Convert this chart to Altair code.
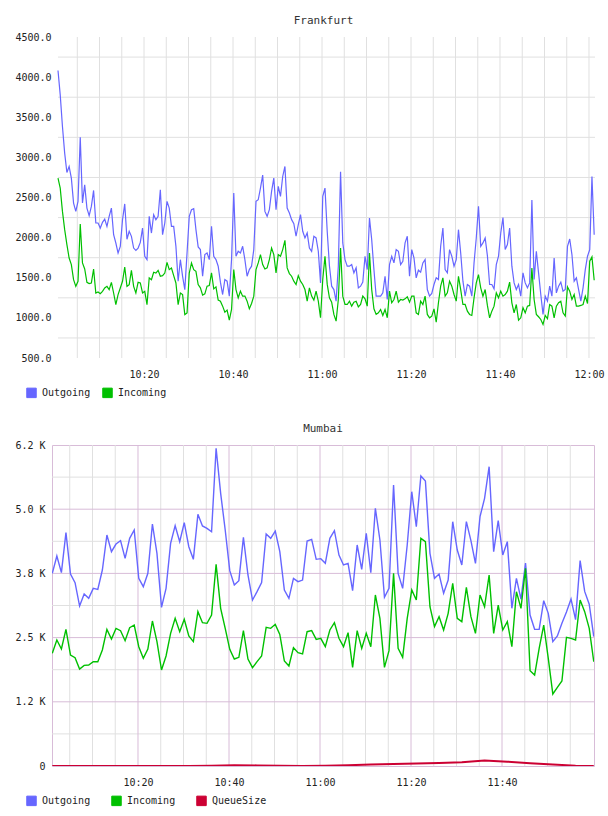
import altair as alt
import pandas as pd

MONO = "DejaVu Sans Mono"
BLUE = "#6666ff"
GREEN = "#00c000"
RED = "#cc0033"
GRID = "#e0e0e0"
PINK = "#d8bcd8"

# ---------------- Frankfurt: 30-second samples ----------------
fra_start = "2024-01-01 10:00:40"
fra_outgoing = [
    4082, 3779, 3385, 3053, 2812, 2887, 2742, 2431, 2327, 2451, 3252, 2431, 2659, 2368, 2273, 2389,
    2588, 2182, 2182, 2119, 2190, 2231, 2140, 2265, 2368, 2036, 1933, 1808, 1891, 2223, 2420, 1980,
    2078, 2016, 1870, 1841, 1870, 1941, 2119, 1767, 1725, 2265, 2057, 2285, 2223, 2265, 2597, 2036,
    2182, 2451, 2368, 2140, 2140, 1891, 1456, 1725, 1518, 1352, 1808, 2265, 2348, 2360, 2100,
    1884, 1851, 1519, 1789, 1809, 1726, 2141, 1768, 1726, 1644, 1445, 1291, 1478, 1457, 1271, 1726,
    2555, 1768, 1830, 1809, 1892, 1726, 1519, 1602, 1644, 1851, 2452, 2472, 2617, 2780, 2327, 2265,
    2348, 2576, 2742, 2348, 2638, 2514, 2762, 2887, 2369, 2307, 2224, 2174, 2017, 2162, 2286, 2079,
    1996, 2058, 1871, 1830, 2017, 1996, 1830, 1436, 2514, 2617, 2080, 1650,
    1395, 1353, 1208, 1644, 2820, 1934, 1726, 1644, 1644, 1664, 1561, 1623, 1374, 1395, 1445, 1768,
    1602, 2244, 1975, 1602, 1271, 1271, 1271, 1312, 1519, 1229, 1664, 1768, 1685, 1851, 1830, 1664,
    1706, 1934, 2017, 1519, 1851, 1747, 1499, 1594, 1569, 1685, 1726, 1353, 1271, 1304, 1416, 1499,
    1478, 1892, 2120, 1602, 1561, 1851, 1768, 1644, 1726, 2099, 1809, 1457, 1271,
    1416, 1395, 1271, 1685, 1996, 2389, 1892, 1934, 1996, 1776, 1416, 1416, 1362, 1664, 1768, 2058,
    2250, 1851, 1913, 2120, 1644, 1436, 1353, 1416, 1271, 1561, 1436, 1374, 1436, 2470, 1478, 1830,
    1561, 1291, 1043, 1271, 1208, 1395, 1271, 1747, 1312, 1395, 1445, 1333, 1353, 1892, 1983, 1789,
    1457, 1499, 1353, 1208, 1374, 1602, 1768, 1851, 2760, 2037,
]
fra_incoming = [
    2742, 2617, 2327, 2099, 1912, 1746, 1663, 1476, 1393, 1456, 2169, 1684, 1609, 1443, 1427, 1435,
    1609, 1310, 1323, 1302, 1331, 1373, 1393, 1352, 1443, 1310, 1165, 1290, 1373, 1456, 1634, 1393,
    1414, 1592, 1393, 1310, 1443, 1435, 1310, 1331, 1165, 1497, 1476, 1568, 1559, 1592, 1518, 1526,
    1559, 1692, 1601, 1621, 1526, 1435, 1165, 1310, 1290, 1041, 1061, 1559, 1684, 1601, 1580,
    1416, 1374, 1283, 1300, 1395, 1403, 1560, 1362, 1387, 1221, 1208, 1146, 1072, 1097, 972, 1105,
    1602, 1353, 1250, 1333, 1271, 1271, 1208, 1113, 1179, 1271, 1602, 1685, 1789, 1664, 1610, 1623,
    1726, 1871, 1789, 1560, 1789, 1768, 1851, 1967, 1623, 1552, 1519, 1457, 1416, 1527, 1457, 1416,
    1353, 1208, 1374, 1271, 1221, 1333, 1208, 1001, 1478, 1768, 1420, 1250,
    1196, 1043, 960, 1229, 1871, 1271, 1167, 1167, 1208, 1146, 1196, 1208, 1138, 1167, 1271, 1237,
    1146, 1809, 1353, 1113, 1043, 1063, 1105, 1030, 1105, 1001, 1333, 1188, 1229, 1333, 1196, 1229,
    1221, 1237, 1262, 1196, 1271, 1271, 1063, 1043, 1208, 1167, 1271, 1043, 1001, 1022, 1113, 947,
    1188, 1395, 1499, 1271, 1312, 1457, 1395, 1291, 1208, 1519, 1353, 1167, 1167,
    1084, 1043, 1030, 1250, 1436, 1540, 1374, 1271, 1353, 1155, 1001, 1084, 1146, 1312, 1250, 1333,
    1271, 1291, 1333, 1445, 1188, 1063, 1167, 972, 1001, 1126, 1063, 1146, 1155, 1620, 1229, 1043,
    1014, 980, 918, 1030, 989, 1167, 1146, 1001, 1146, 1188, 1208, 1063, 1022, 1387, 1333, 1229,
    1291, 1146, 1146, 1155, 1167, 1271, 1179, 1706, 1760, 1469,
]
fra_series = ["Outgoing", "Incoming"]
fra_y_ticks = [500, 1000, 1500, 2000, 2500, 3000, 3500, 4000, 4500]
fra_y_grid = [750, 1250, 1750, 2250, 2750, 3250, 3750, 4250]
fra_time_labels = ["10:20", "10:40", "11:00", "11:20", "11:40", "12:00"]

# ---------------- Mumbai: 1-minute samples ----------------
mum_start = "2024-01-01 10:01:10"
mum_outgoing = [
    3751, 4089, 3764, 4543, 3738, 3570, 3115, 3349, 3264, 3459, 3440, 3816, 4498, 4173, 4322, 4387,
    4043, 4433, 4595, 3654, 3492, 3751, 4712, 4141, 3089, 3459, 4335, 4679, 4368, 4738, 4270, 4024,
    4900, 4673, 4627, 4562, 6185, 5309, 4595, 3803, 3524, 3608, 4452, 3719, 3232, 3394, 3570, 4517,
    4433, 4575, 4173, 3427, 3264, 3654, 3589, 3620, 4381, 4413, 4024, 4037, 3946, 4433, 4582, 4108,
    3914, 3946, 3414, 4303, 3829, 4530, 3764, 5017, 4400, 3284, 3459, 5471, 3751, 3459, 4303, 5341,
    4660, 5647, 5549, 4141, 3654, 3738, 3362, 3621, 4757, 4205, 3914, 4757, 4387, 3946, 4854, 5211,
    5828, 4173, 4776, 4108, 4368, 3070, 3654, 3250, 3950, 2940, 2661, 2661, 3219, 2972, 2421, 2531,
    2778, 3000, 3250, 2850, 4000, 3400, 3150, 2520,
]
mum_incoming = [
    2194, 2453, 2278, 2661, 2161, 2109, 1888, 1960, 1966, 2031, 2031, 2259, 2661, 2473, 2680, 2635,
    2440, 2693, 2745, 2323, 2096, 2278, 2823, 2421, 1869, 2142, 2583, 2875, 2615, 2856, 2531, 2421,
    3005, 2791, 2778, 2940, 3927, 3070, 2680, 2271, 2083, 2116, 2635, 2083, 1914, 2031, 2142, 2700,
    2680, 2758, 2563, 2044, 1947, 2304, 2207, 2181, 2615, 2635, 2466, 2486, 2323, 2648, 2791, 2486,
    2323, 2596, 1921, 2635, 2291, 2583, 2323, 3330, 2875, 1921, 2246, 3751, 2291, 2116, 2875, 3427,
    3232, 4433, 4368, 3102, 2713, 2907, 2648, 2972, 3556, 2875, 2810, 3478, 2907, 2583, 3330, 3102,
    3719, 2583, 3134, 2648, 2810, 2323, 3394, 3070, 3850, 1856, 1771, 2291, 2745, 2096, 1402, 1532,
    1655, 2505, 2486, 2453, 3232, 3005, 2680, 2031,
]
mum_queue_times = [
    "10:01:10", "10:06:10", "10:11:10", "10:16:10", "10:21:10", "10:26:10", "10:31:10", "10:36:10",
    "10:41:10", "10:46:10", "10:51:10", "10:56:10", "11:01:10", "11:06:10", "11:11:10", "11:16:10",
    "11:21:10", "11:26:10", "11:31:10", "11:36:10", "11:41:10", "11:46:10", "11:51:10", "11:56:10",
    "12:00:10",
]
mum_queue = [0, 0, 0, 0, 0, 0, 0, 5, 15, 12, 5, 0, 5, 15, 28, 38, 48, 58, 72, 105, 85, 55, 30, 5, 0]
mum_series = ["Outgoing", "Incoming", "QueueSize"]
mum_y_ticks = [0, 1250, 2500, 3750, 5000, 6250]
mum_y_labels = ["0", "1.2 K", "2.5 K", "3.8 K", "5.0 K", "6.2 K"]
mum_y_minor = [625, 1875, 3125, 4375, 5625]
mum_time_labels = ["10:20", "10:40", "11:00", "11:20", "11:40"]


def dt(h, m, s=0):
    return alt.DateTime(year=2024, month=1, date=1, hours=h, minutes=m, seconds=s)


def hm(label):
    h, m = label.split(":")
    return dt(int(h), int(m))


def frame(start, freq, names, columns):
    parts = []
    for name, vals in zip(names, columns):
        times = pd.date_range(start, periods=len(vals), freq=freq)
        parts.append(pd.DataFrame({"time": times, "series": name, "value": vals}))
    return pd.concat(parts, ignore_index=True)


def legend(x, y, pad):
    return alt.Legend(
        title=None, orient="none", legendX=x, legendY=y, direction="horizontal",
        symbolType="square", symbolSize=90, symbolStrokeColor="#999999", symbolStrokeWidth=1,
        symbolOpacity=1, labelFont=MONO, labelFontSize=10, labelColor="#222222", labelOffset=5,
        columnPadding=pad, padding=0,
    )


def title(text):
    return alt.TitleParams(text, font=MONO, fontSize=11, fontWeight="normal",
                           color="#333333", offset=6, anchor="middle")


# ---------------- Frankfurt panel ----------------
# The x range starts 6px in from the view edge, leaving room for the wider y labels.
fra_t0 = pd.Timestamp("2024-01-01 10:00:40")
fra_t1 = pd.Timestamp("2024-01-01 12:01:21")
fra_df = frame(fra_start, "30s", fra_series, [fra_outgoing, fra_incoming])
fra_x = alt.Scale(domain=[dt(10, 0, 40), dt(12, 1, 21)], range=[6, 543], nice=False)
fra_y = alt.Scale(domain=[500, 4500], nice=False, zero=False)
fra_color = alt.Scale(domain=fra_series, range=[BLUE, GREEN])
fra_x_axis = alt.Axis(values=[hm(t) for t in fra_time_labels], format="%H:%M", labelPadding=11)
fra_y_axis = alt.Axis(values=fra_y_ticks, format=".1f", labelPadding=1)

# legend swatches: filled squares kept outside the clipped plot area
fra_keys = alt.Chart(pd.DataFrame({"series": fra_series})).mark_square(
    filled=True, clip=True, opacity=1).encode(
    x=alt.value(-100), y=alt.value(-100),
    color=alt.Color("series:N", scale=fra_color, legend=legend(-26, 350, 9)),
)

fra_vgrid = alt.Chart(pd.DataFrame({
    "time": pd.date_range("2024-01-01 10:05", "2024-01-01 12:00", freq="5min")
})).mark_rule(color=GRID, strokeWidth=1).encode(
    x=alt.X("time:T", scale=fra_x, title=None, axis=fra_x_axis))

fra_hgrid = alt.Chart(pd.DataFrame({"value": fra_y_grid, "t0": fra_t0, "t1": fra_t1})).mark_rule(
    color=GRID, strokeWidth=1).encode(
    x=alt.X("t0:T", scale=fra_x, title=None, axis=fra_x_axis),
    x2="t1:T",
    y=alt.Y("value:Q", scale=fra_y, title=None, axis=fra_y_axis))

fra_lines = alt.Chart(fra_df).mark_line(strokeWidth=1.2, clip=True).encode(
    x=alt.X("time:T", scale=fra_x, title=None, axis=fra_x_axis),
    y=alt.Y("value:Q", scale=fra_y, title=None, axis=fra_y_axis),
    color=alt.Color("series:N", scale=fra_color),
)

top = alt.layer(fra_keys, fra_vgrid, fra_hgrid, fra_lines).properties(
    width=543, height=321, title=title("Frankfurt"),
)

# ---------------- Mumbai panel ----------------
mum_df = frame(mum_start, "60s", mum_series[:2], [mum_outgoing, mum_incoming])
mum_q = pd.DataFrame({
    "time": pd.to_datetime(["2024-01-01 " + t for t in mum_queue_times]),
    "series": "QueueSize",
    "value": mum_queue,
})
mum_x = alt.Scale(domain=[dt(10, 1, 6), dt(12, 0, 13)], nice=False)
mum_y = alt.Scale(domain=[0, 6250], nice=False)
mum_color = alt.Scale(domain=mum_series, range=[BLUE, GREEN, RED])

label_expr = " : ".join(
    f"datum.value == {v} ? '{s}'" for v, s in zip(mum_y_ticks, mum_y_labels)
) + " : ''"
mum_x_axis = alt.Axis(values=[hm(t) for t in mum_time_labels], format="%H:%M", labelPadding=11)
mum_y_axis = alt.Axis(values=mum_y_ticks, labelExpr=label_expr, labelPadding=7)

five_min = pd.date_range("2024-01-01 10:05", "2024-01-01 11:55", freq="5min")
major_times = [t for t in five_min if t.minute % 20 == 0]
minor_times = [t for t in five_min if t.minute % 20 != 0]

mum_keys = alt.Chart(pd.DataFrame({"series": mum_series})).mark_square(
    filled=True, clip=True, opacity=1).encode(
    x=alt.value(-100), y=alt.value(-100),
    color=alt.Color("series:N", scale=mum_color, legend=legend(-26, 350, 18)),
)


def vrule(times, color):
    return alt.Chart(pd.DataFrame({"time": times})).mark_rule(color=color, strokeWidth=1).encode(
        x=alt.X("time:T", scale=mum_x, title=None, axis=mum_x_axis))


def hrule(values, color):
    return alt.Chart(pd.DataFrame({"value": values})).mark_rule(color=color, strokeWidth=1).encode(
        y=alt.Y("value:Q", scale=mum_y, title=None, axis=mum_y_axis))


mum_lines = alt.Chart(mum_df).mark_line(strokeWidth=1.4, clip=True).encode(
    x=alt.X("time:T", scale=mum_x, title=None, axis=mum_x_axis),
    y=alt.Y("value:Q", scale=mum_y, title=None, axis=mum_y_axis),
    color=alt.Color("series:N", scale=mum_color),
)

mum_queue_line = alt.Chart(mum_q).mark_line(strokeWidth=2, clip=True).encode(
    x=alt.X("time:T", scale=mum_x, title=None, axis=mum_x_axis),
    y=alt.Y("value:Q", scale=mum_y, title=None, axis=mum_y_axis),
    color=alt.Color("series:N", scale=mum_color),
)

bottom = alt.layer(
    mum_keys,
    vrule(minor_times, GRID), hrule(mum_y_minor, GRID),
    vrule(major_times, PINK), hrule(mum_y_ticks[1:-1], PINK),
    mum_lines, mum_queue_line,
).properties(
    width=542, height=321, title=title("Mumbai"),
    view=alt.ViewBackground(stroke=PINK, strokeWidth=1),
)

chart = alt.vconcat(top, bottom, spacing=22).properties(
    padding={"left": 14, "top": 15, "right": 0, "bottom": 0},
).resolve_scale(color="independent").resolve_legend(color="independent").configure_axis(
    labelFont=MONO, labelFontSize=10, labelColor="#222222", domain=False, ticks=False,
    tickSize=0, grid=False, labelFlush=False, labelOverlap=False,
).configure_view(strokeWidth=0)

chart.save("out.html", embed_options={"renderer": "svg", "actions": False})
